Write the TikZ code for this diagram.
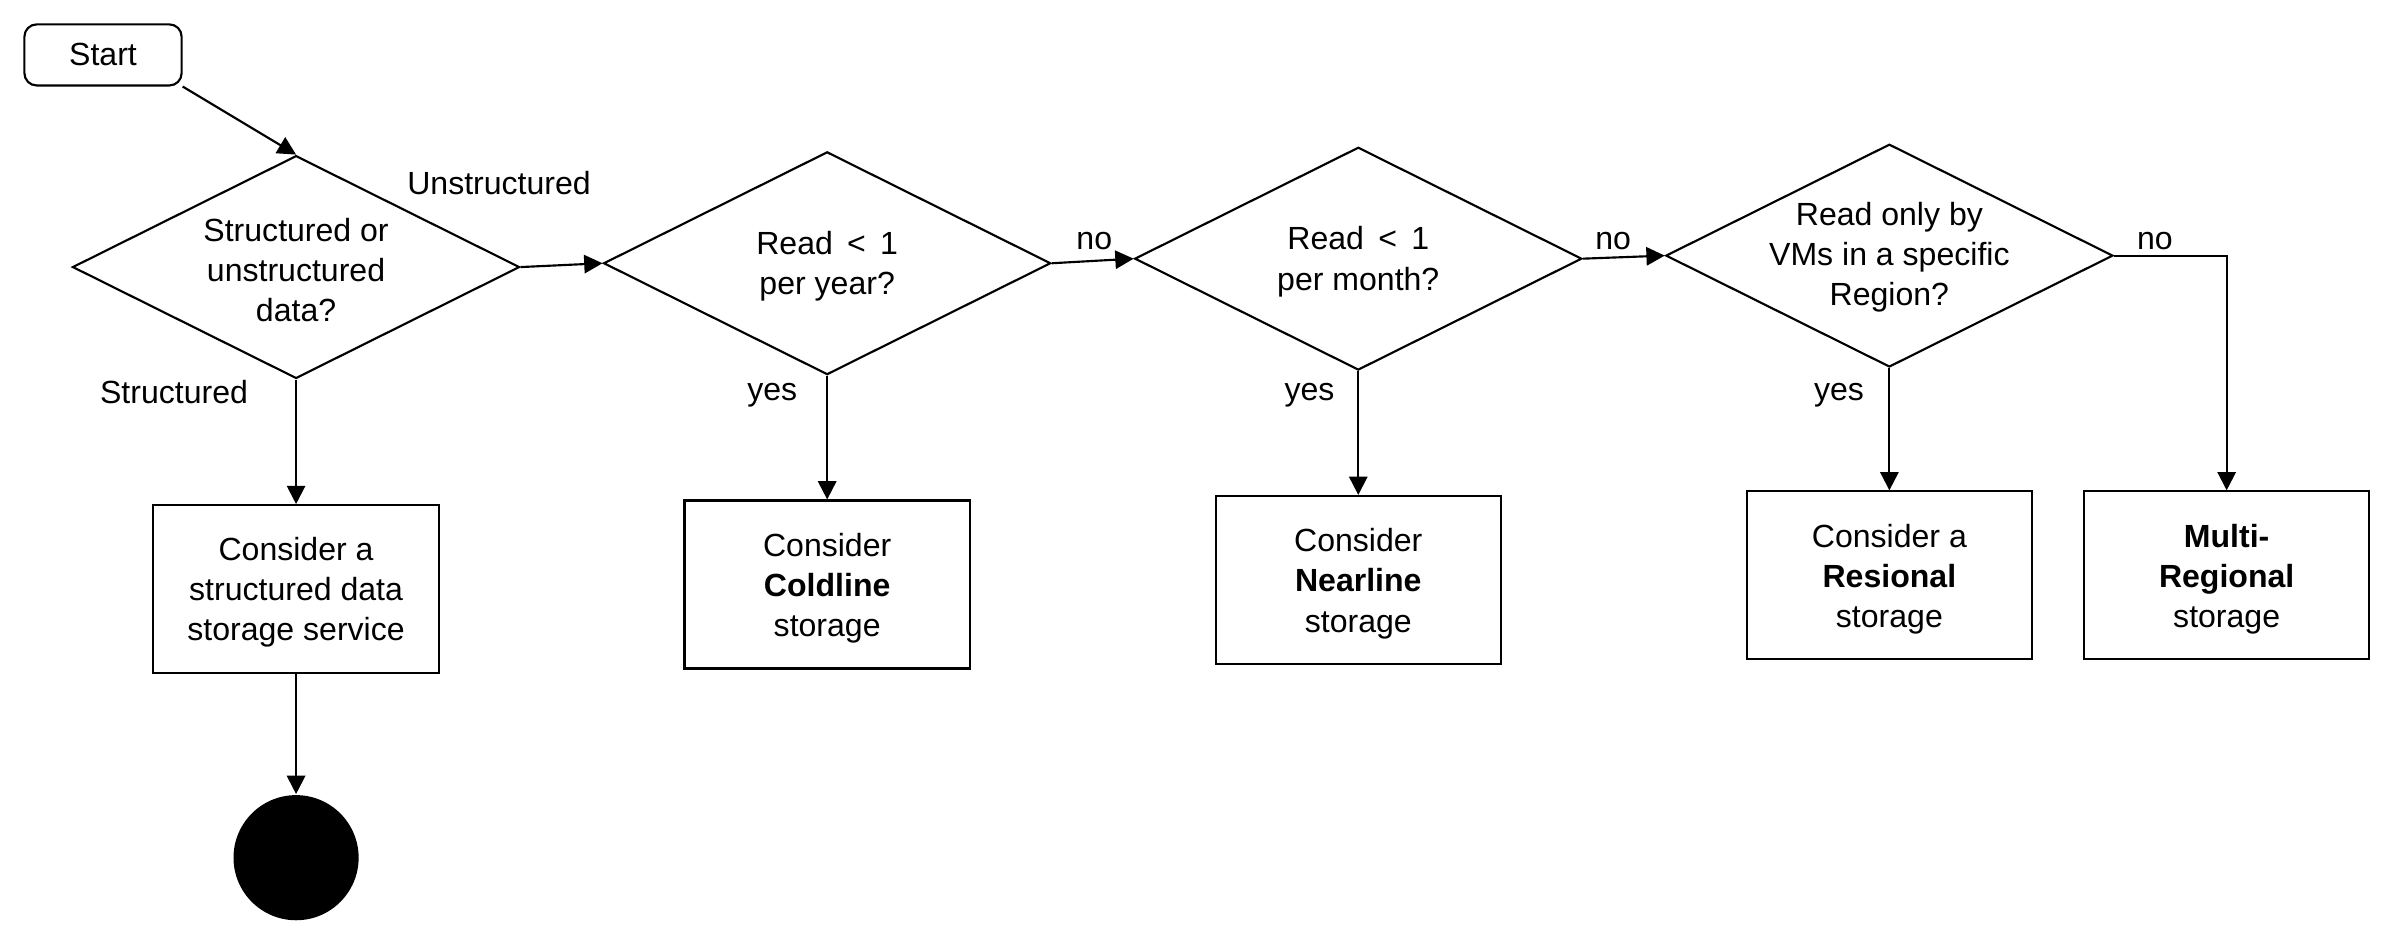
\documentclass[tikz,border=0pt]{standalone}
\usepackage{fontspec}
\setmainfont{Liberation Sans}
\usetikzlibrary{shapes.geometric,arrows.meta}
\begin{document}
\begin{tikzpicture}[x=0.5pt,y=-0.5pt,
  line width=0.7pt,
  txt/.style={font=\fontsize{10.5}{13.2}\selectfont, align=center, inner sep=0pt},
  dec/.style={draw, diamond, minimum width=146.5pt, minimum height=73pt, inner sep=0pt},
  stbox/.style={draw, rectangle, minimum width=93.5pt, minimum height=55pt, inner sep=0pt},
  arr/.style={-{Triangle[length=6pt,width=6pt]}},
  lbl/.style={font=\fontsize{10.5}{12}\selectfont, inner sep=0pt}]
\useasboundingbox (0,0) rectangle (1568,618.5);
\node[draw, rounded corners=4pt, minimum width=51.5pt, minimum height=20pt, txt] (start) at (67.5,36) {Start};
% decisions
\node[dec] (d1) at (194,175) {};
\node[dec] (d2) at (542,172.5) {};
\node[dec] (d3) at (890,169.5) {};
\node[dec] (d4) at (1238,167.5) {};
\node[txt, yshift=-1pt] (t1) at (d1) {Structured or\\unstructured\\data?};
\node[txt, yshift=-1pt] (t2) at (d2) {Read \,<\, 1\\per year?};
\node[txt, yshift=-1pt] (t3) at (d3) {Read \,<\, 1\\per month?};
\node[txt, yshift=-0.5pt] (t4) at (d4) {Read only by\\VMs in a specific\\Region?};
% boxes
\node[stbox] (b1) at (194,386) {};
\node[stbox] (b2) at (542,383) {};
\node[stbox] (b3) at (890,380) {};
\node[stbox] (b4) at (1238,377) {};
\node[stbox] (b5) at (1459,377) {};
\node[txt, yshift=-1pt] (bt1) at (b1) {Consider a\\structured data\\storage service};
\node[txt, yshift=-1.2pt] (bt2) at (b2) {Consider\\\textbf{Coldline}\\storage};
\node[txt, yshift=-1.2pt] (bt3) at (b3) {Consider\\\textbf{Nearline}\\storage};
\node[txt, yshift=-1.2pt] (bt4) at (b4) {Consider a\\\textbf{Resional}\\storage};
\node[txt, yshift=-1.2pt] (bt5) at (b5) {\textbf{Multi-}\\\textbf{Regional}\\storage};
\node[circle, fill=black, minimum size=41pt, inner sep=0pt] (end) at (194,562) {};
% connectors
\draw[arr] (start.south east) -- (d1.north);
\draw[arr] (d1.east) -- (d2.west);
\draw[arr] (d2.east) -- (d3.west);
\draw[arr] (d3.east) -- (d4.west);
\draw[arr] (d4.east) -| (b5.north);
\draw[arr] (d1.south) -- (b1.north);
\draw[arr] (d2.south) -- (b2.north);
\draw[arr] (d3.south) -- (b3.north);
\draw[arr] (d4.south) -- (b4.north);
\draw[arr] (b1.south) -- (end.north);
% labels
\node[lbl] (lu) at (327,120) {Unstructured};
\node[lbl] (ls) at (114,257) {Structured};
\node[lbl] (n1) at (717,158) {no};
\node[lbl] (n2) at (1057,158) {no};
\node[lbl] (n3) at (1412,158) {no};
\node[lbl] (y1) at (506,259) {yes};
\node[lbl] (y2) at (858,259) {yes};
\node[lbl] (y3) at (1205,259) {yes};
\end{tikzpicture}
\end{document}
